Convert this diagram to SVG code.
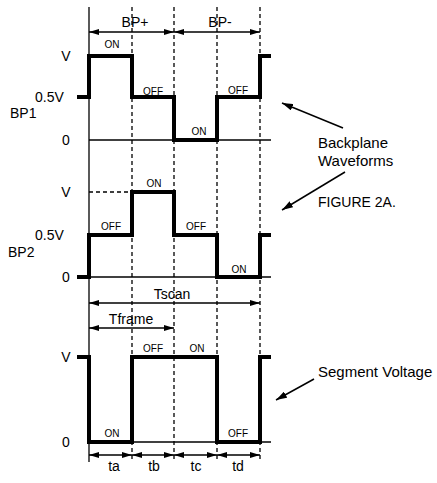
<svg xmlns="http://www.w3.org/2000/svg" width="437" height="483" viewBox="0 0 437 483">
<style>
text{font-family:"Liberation Sans",Arial,sans-serif;fill:#000}
.lbl{font-size:14px}
.sm{font-size:10px;text-anchor:middle}
.big{font-size:15px}
.mid{text-anchor:middle}
.end{text-anchor:end}
.thin{stroke:#000;stroke-width:1.3;fill:none}
.dash{stroke:#000;stroke-width:1.3;fill:none;stroke-dasharray:4,3}
.wave{stroke:#000;stroke-width:4;fill:none;stroke-linejoin:miter;stroke-linecap:butt}
.dim{stroke:#000;stroke-width:1.3;fill:none;marker-start:url(#ah);marker-end:url(#ah)}
.ptr{stroke:#000;stroke-width:1.5;fill:none;marker-end:url(#ah2)}
</style>
<defs>
<marker id="ah" markerUnits="userSpaceOnUse" viewBox="0 0 10 6" refX="10" refY="3" markerWidth="10" markerHeight="6" orient="auto-start-reverse"><path d="M0,0 L10,3 L0,6 z" fill="#000"/></marker>
<marker id="ah2" markerUnits="userSpaceOnUse" viewBox="0 0 11 7" refX="11" refY="3.5" markerWidth="11" markerHeight="7" orient="auto"><path d="M0,0 L11,3.5 L0,7 z" fill="#000"/></marker>
</defs>
<g id="grid">
<line class="thin" x1="89" y1="7" x2="89" y2="462"/>
<line class="dash" x1="132" y1="7" x2="132" y2="459"/>
<line class="dash" x1="174" y1="7" x2="174" y2="459"/>
<line class="dash" x1="217" y1="7" x2="217" y2="459"/>
<line class="dash" x1="260" y1="7" x2="260" y2="459"/>
</g>
<g id="connectors">
<line class="dim" x1="89" y1="32" x2="174" y2="32"/>
<line class="dim" x1="174" y1="32" x2="260" y2="32"/>
<line class="dim" x1="89" y1="303" x2="260" y2="303"/>
<line class="dim" x1="89" y1="328" x2="174" y2="328"/>
<line class="dim" x1="89" y1="455" x2="132" y2="455"/>
<line class="dim" x1="132" y1="455" x2="174" y2="455"/>
<line class="dim" x1="174" y1="455" x2="217" y2="455"/>
<line class="dim" x1="217" y1="455" x2="260" y2="455"/>
<line class="ptr" x1="343" y1="128" x2="282" y2="103"/>
<line class="ptr" x1="345" y1="172" x2="282" y2="210"/>
<line class="ptr" x1="314" y1="379" x2="276" y2="400"/>
</g>
<g id="bp1">
<line class="thin" x1="89" y1="140" x2="271" y2="140"/>
<polyline class="wave" points="77,97 89,97 89,56 132,56 132,97 174,97 174,140 217,140 217,97 260,97 260,56 271,56"/>
<text class="lbl mid" x="66" y="60.5">V</text>
<text class="lbl" x="35" y="102">0.5V</text>
<text class="lbl" x="10" y="118">BP1</text>
<text class="lbl mid" x="66" y="144.5">0</text>
<text class="sm" x="112" y="48">ON</text>
<text class="sm" x="153" y="94.5">OFF</text>
<text class="sm" x="199" y="135">ON</text>
<text class="sm" x="238" y="93.5">OFF</text>
</g>
<g id="bp2">
<line class="thin" x1="89" y1="277" x2="271" y2="277"/>
<line class="dash" x1="89" y1="192" x2="132" y2="192"/>
<polyline class="wave" points="77,277 89,277 89,235 132,235 132,192 174,192 174,235 217,235 217,277 260,277 260,235 271,235"/>
<text class="lbl mid" x="66" y="196.5">V</text>
<text class="lbl" x="35" y="240">0.5V</text>
<text class="lbl" x="8" y="257">BP2</text>
<text class="lbl mid" x="66" y="282">0</text>
<text class="sm" x="111" y="230">OFF</text>
<text class="sm" x="154" y="187">ON</text>
<text class="sm" x="196" y="230">OFF</text>
<text class="sm" x="239" y="273">ON</text>
</g>
<g id="segment">
<line class="thin" x1="89" y1="442" x2="271" y2="442"/>
<polyline class="wave" points="77,357 89,357 89,442 132,442 132,357 217,357 217,442 260,442 260,357 271,357"/>
<text class="lbl mid" x="66" y="362">V</text>
<text class="lbl mid" x="66" y="447">0</text>
<text class="sm" x="112" y="437">ON</text>
<text class="sm" x="153" y="352">OFF</text>
<text class="sm" x="197" y="352">ON</text>
<text class="sm" x="238" y="437">OFF</text>
</g>
<g id="labels">
<text class="lbl mid" x="135" y="27">BP+</text>
<text class="lbl mid" x="220" y="27">BP-</text>
<text class="lbl mid" x="172" y="299">Tscan</text>
<text class="lbl mid" x="131" y="324">Tframe</text>
<text class="lbl mid" x="114" y="471">ta</text>
<text class="lbl mid" x="154" y="471">tb</text>
<text class="lbl mid" x="196" y="471">tc</text>
<text class="lbl mid" x="238" y="471">td</text>
<text class="big" x="318" y="148">Backplane</text>
<text class="big" x="318" y="166">Waveforms</text>
<text class="lbl" x="318" y="207">FIGURE 2A.</text>
<text class="big" x="318" y="377">Segment Voltage</text>
</g>
</svg>
